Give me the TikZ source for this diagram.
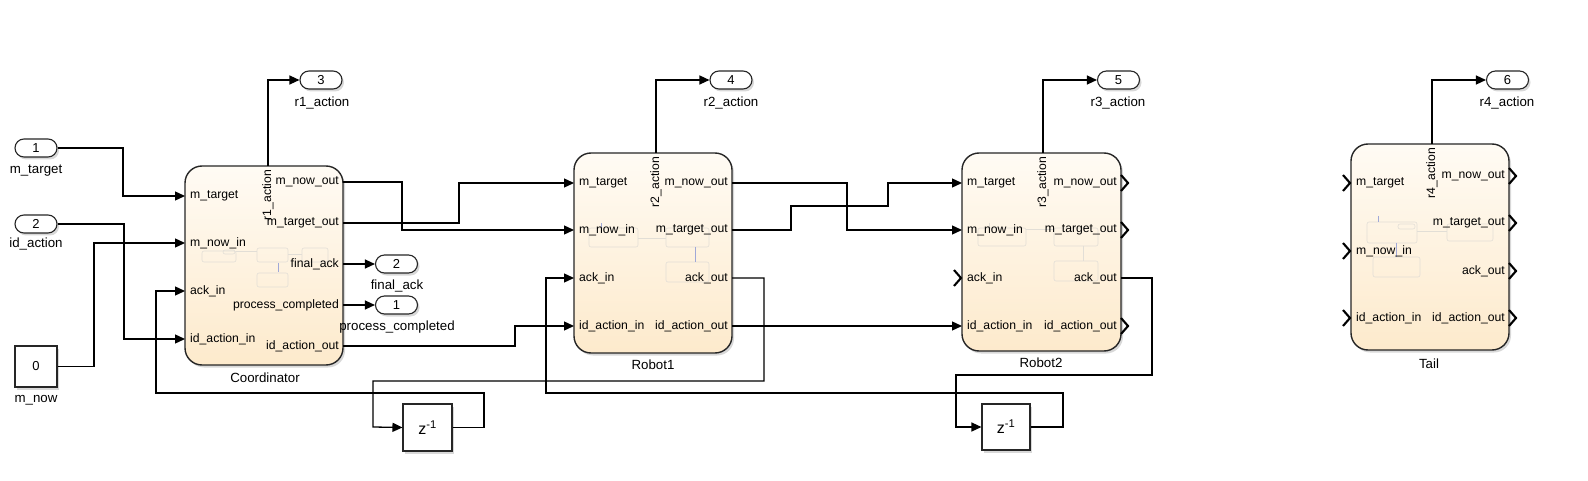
\documentclass[tikz,border=0pt]{standalone}
\usepackage{fontspec}
\setmainfont{Liberation Sans}
\usetikzlibrary{arrows.meta,shadows}
\definecolor{blktop}{RGB}{255,251,244}
\definecolor{blkbot}{RGB}{253,234,204}
\definecolor{faint}{RGB}{226,222,214}
\definecolor{faintblue}{RGB}{160,168,215}
\begin{document}
\begin{tikzpicture}[x=1pt,y=-1pt,
  wire/.style={line width=1.3pt, draw=black},
  arr/.style={wire, -{Triangle[length=10pt,width=9pt]}},
  shad/.style={drop shadow={shadow xshift=2pt, shadow yshift=-2.5pt, opacity=0.3}},
  block/.style={draw=black!85, line width=1.4pt, rounded corners=17pt, top color=blktop, bottom color=blkbot, inner sep=0pt, shad},
  sqblock/.style={draw=black!85, line width=1.1pt, fill=white, inner sep=0pt, shad},
  portnode/.style={draw=black!85, line width=1.1pt, fill=white, rounded corners=9pt, minimum width=42pt, minimum height=18pt, inner sep=0pt, font=\fontsize{13}{15}\selectfont, shad},
  lbl/.style={font=\fontsize{13.3}{15}\selectfont, inner sep=0pt},
  plbl/.style={font=\fontsize{12.2}{14}\selectfont, inner sep=0pt},
  inl/.style={plbl, anchor=west, xshift=5pt},
  outl/.style={plbl, anchor=east, xshift=-4pt},
  rotl/.style={plbl, rotate=90, anchor=center},
  faintbox/.style={draw=faint, line width=0.6pt, rounded corners=2pt},
  faintline/.style={draw=faint, line width=0.6pt},
  blueline/.style={draw=faintblue, line width=0.6pt},
  chev/.style={line width=2.1pt, line join=miter},
]
\fill[white] (0,0) rectangle (1588,481);
\useasboundingbox (0,0) rectangle (1588,481);

% ---------- blocks ----------
\node[block, minimum width=158pt, minimum height=199pt] (coord) at (264,265.5) {};
\node[block, minimum width=158pt, minimum height=200pt] (rob1) at (653,253) {};
\node[block, minimum width=159pt, minimum height=198pt] (rob2) at (1041.5,252) {};
\node[block, minimum width=158pt, minimum height=206pt] (tail) at (1430,247) {};

% faint inner previews
\draw[faintbox] (202,251) rectangle (236,262);
\draw[faintbox] (223,250) rectangle (235,254);
\draw[faintbox] (257,248) rectangle (288,262);
\draw[faintbox] (302,248) rectangle (328,262);
\draw[faintbox] (257,273) rectangle (288,287);
\draw[faintline] (236,251) -- (257,251);
\draw[faintline] (288,254) -- (302,254);
\draw[blueline] (278,263) -- (278,272);

\draw[faintbox] (589,228) rectangle (638,247);
\draw[faintbox] (666,228) rectangle (709,247);
\draw[faintbox] (666,262) rectangle (709,282);
\draw[faintline] (638,238) -- (666,238);
\draw[blueline] (601,223) -- (601,228);
\draw[blueline] (695,247) -- (695,262);

\draw[faintbox] (978,228) rectangle (1026,246);
\draw[faintbox] (1054,228) rectangle (1098,246);
\draw[faintbox] (1054,261) rectangle (1098,281);
\draw[faintline] (1026,229) -- (1054,229);
\draw[faintline] (989,223) -- (989,228);
\draw[faintline] (1083,246) -- (1083,261);

\draw[faintbox] (1367,222) rectangle (1417,243);
\draw[faintbox] (1398,224) rectangle (1415,229);
\draw[faintbox] (1447,224) rectangle (1493,241);
\draw[faintbox] (1373,257) rectangle (1420,277);
\draw[faintline] (1417,231) -- (1447,231);
\draw[blueline] (1378,216) -- (1378,222);
\draw[blueline] (1396,243) -- (1396,257);

% ---------- port coordinates ----------
\coordinate (cIn1) at (185,196);  \coordinate (cIn2) at (185,243);
\coordinate (cIn3) at (185,291);  \coordinate (cIn4) at (185,339);
\coordinate (cOut1) at (343,182); \coordinate (cOut2) at (343,223);
\coordinate (cOut3) at (343,264); \coordinate (cOut4) at (343,305);
\coordinate (cOut5) at (343,346); \coordinate (cTop) at (268,166);

\coordinate (aIn1) at (574,183);  \coordinate (aIn2) at (574,230);
\coordinate (aIn3) at (574,278);  \coordinate (aIn4) at (574,326);
\coordinate (aOut1) at (732,183); \coordinate (aOut2) at (732,230);
\coordinate (aOut3) at (732,278); \coordinate (aOut4) at (732,326);
\coordinate (aTop) at (656,153);

\coordinate (bIn1) at (962,183);  \coordinate (bIn2) at (962,230);
\coordinate (bIn3) at (962,278);  \coordinate (bIn4) at (962,326);
\coordinate (bOut1) at (1121,183); \coordinate (bOut2) at (1121,230);
\coordinate (bOut3) at (1121,278); \coordinate (bOut4) at (1121,326);
\coordinate (bTop) at (1043,153);

\coordinate (tIn1) at (1351,183); \coordinate (tIn2) at (1351,251);
\coordinate (tIn3) at (1351,318);
\coordinate (tOut1) at (1509,176); \coordinate (tOut2) at (1509,223);
\coordinate (tOut3) at (1509,271); \coordinate (tOut4) at (1509,318);
\coordinate (tTop) at (1432,144);

% ---------- block port labels ----------
\node[inl] (lc1) at (cIn1) {m\_target};
\node[inl] (lc2) at (cIn2) {m\_now\_in};
\node[inl] (lc3) at (cIn3) {ack\_in};
\node[inl] (lc4) at (cIn4) {id\_action\_in};
\node[outl] (lc5) at (cOut1) {m\_now\_out};
\node[outl] (lc6) at (cOut2) {m\_target\_out};
\node[outl] (lc7) at (cOut3) {final\_ack};
\node[outl] (lc8) at (cOut4) {process\_completed};
\node[outl] (lc9) at (cOut5) {id\_action\_out};
\node[rotl] (lc10) at (268,195) {r1\_action};

\node[inl] (la1) at (aIn1) {m\_target};
\node[inl] (la2) at (aIn2) {m\_now\_in};
\node[inl] (la3) at (aIn3) {ack\_in};
\node[inl] (la4) at (aIn4) {id\_action\_in};
\node[outl] (la5) at (aOut1) {m\_now\_out};
\node[outl] (la6) at (aOut2) {m\_target\_out};
\node[outl] (la7) at (aOut3) {ack\_out};
\node[outl] (la8) at (aOut4) {id\_action\_out};
\node[rotl] (la9) at (656,182) {r2\_action};

\node[inl] (lb1) at (bIn1) {m\_target};
\node[inl] (lb2) at (bIn2) {m\_now\_in};
\node[inl] (lb3) at (bIn3) {ack\_in};
\node[inl] (lb4) at (bIn4) {id\_action\_in};
\node[outl] (lb5) at (bOut1) {m\_now\_out};
\node[outl] (lb6) at (bOut2) {m\_target\_out};
\node[outl] (lb7) at (bOut3) {ack\_out};
\node[outl] (lb8) at (bOut4) {id\_action\_out};
\node[rotl] (lb9) at (1043,182) {r3\_action};

\node[inl] (lt1) at (tIn1) {m\_target};
\node[inl] (lt2) at (tIn2) {m\_now\_in};
\node[inl] (lt3) at (tIn3) {id\_action\_in};
\node[outl] (lt4) at (tOut1) {m\_now\_out};
\node[outl] (lt5) at (tOut2) {m\_target\_out};
\node[outl] (lt6) at (tOut3) {ack\_out};
\node[outl] (lt7) at (tOut4) {id\_action\_out};
\node[rotl] (lt8) at (1432,173) {r4\_action};

% block names
\node[lbl] (ncoord) at (265,378) {Coordinator};
\node[lbl] (nrob1) at (653,365) {Robot1};
\node[lbl] (nrob2) at (1041,363) {Robot2};
\node[lbl] (ntail) at (1429,364) {Tail};

% ---------- unconnected port chevrons ----------
\draw[chev] (954,270) -- (961,278) -- (954,286);
\draw[chev] (1121,175) -- (1128,183) -- (1121,191);
\draw[chev] (1121,222) -- (1128,230) -- (1121,238);
\draw[chev] (1121,318) -- (1128,326) -- (1121,334);
\draw[chev] (1343,175) -- (1350,183) -- (1343,191);
\draw[chev] (1343,243) -- (1350,251) -- (1343,259);
\draw[chev] (1343,310) -- (1350,318) -- (1343,326);
\draw[chev] (1509,168) -- (1516,176) -- (1509,184);
\draw[chev] (1509,215) -- (1516,223) -- (1509,231);
\draw[chev] (1509,263) -- (1516,271) -- (1509,279);
\draw[chev] (1509,310) -- (1516,318) -- (1509,326);

% ---------- sources, sinks, delays ----------
\node[portnode] (in1) at (36,148) {1};
\node[lbl] (lin1) at (36,171) {m\_target};
\node[portnode] (in2) at (36,224) {2};
\node[lbl] (lin2) at (36,244) {id\_action};
\node[sqblock, minimum width=42pt, minimum height=41pt, font=\fontsize{13}{15}\selectfont] (const) at (36,366.5) {0};
\node[lbl] (lconst) at (36,400) {m\_now};

\node[portnode] (out3) at (321,80) {3};
\node[lbl] (lout3) at (322,103) {r1\_action};
\node[portnode] (out4) at (731,80) {4};
\node[lbl] (lout4) at (731,103) {r2\_action};
\node[portnode] (out5) at (1118.5,80) {5};
\node[lbl] (lout5) at (1118,103) {r3\_action};
\node[portnode] (out6) at (1507.5,80) {6};
\node[lbl] (lout6) at (1507,103) {r4\_action};
\node[portnode] (out2) at (396.5,264) {2};
\node[lbl] (lout2) at (397,286) {final\_ack};
\node[portnode] (out1) at (396.5,305) {1};
\node[lbl] (lout1) at (397,327) {process\_completed};

\node[sqblock, minimum width=49pt, minimum height=47pt, font=\fontsize{16}{18}\selectfont] (z1) at (427.5,427.5) {z\textsuperscript{-1}};
\node[sqblock, minimum width=48pt, minimum height=46pt, font=\fontsize{16}{18}\selectfont] (z2) at (1006,427) {z\textsuperscript{-1}};

% ---------- wires ----------
\draw[arr] (in1.east) -| (123,196) -- (cIn1);
\draw[arr] (in2.east) -| (124,339) -- (cIn4);
\draw[arr] (const.east) -| (94,243) -- (cIn2);
\draw[arr] (z1.east) -| (484,393) -| (156,291) -- (cIn3);
\draw[arr] (cTop) |- (out3.west);
\draw[arr] (cOut1) -| (402,230) -- (aIn2);
\draw[arr] (cOut2) -| (459,183) -- (aIn1);
\draw[arr] (cOut3) -- (out2.west);
\draw[arr] (cOut4) -- (out1.west);
\draw[arr] (cOut5) -| (515,326) -- (aIn4);
\draw[arr] (aTop) |- (out4.west);
\draw[arr] (aOut1) -| (847,230) -- (bIn2);
\draw[arr] (aOut2) -| (791,206) -| (888,183) -- (bIn1);
\draw[arr] (aOut3) -| (764,381) -| (373,427) -- (z1.west);
\draw[arr] (aOut4) -- (bIn4);
\draw[arr] (bTop) |- (out5.west);
\draw[arr] (bOut3) -| (1152,375) -| (956,427) -- (z2.west);
\draw[arr] (z2.east) -| (1063,393) -| (546,278) -- (aIn3);
\draw[arr] (tTop) |- (out6.west);
\end{tikzpicture}
\end{document}
